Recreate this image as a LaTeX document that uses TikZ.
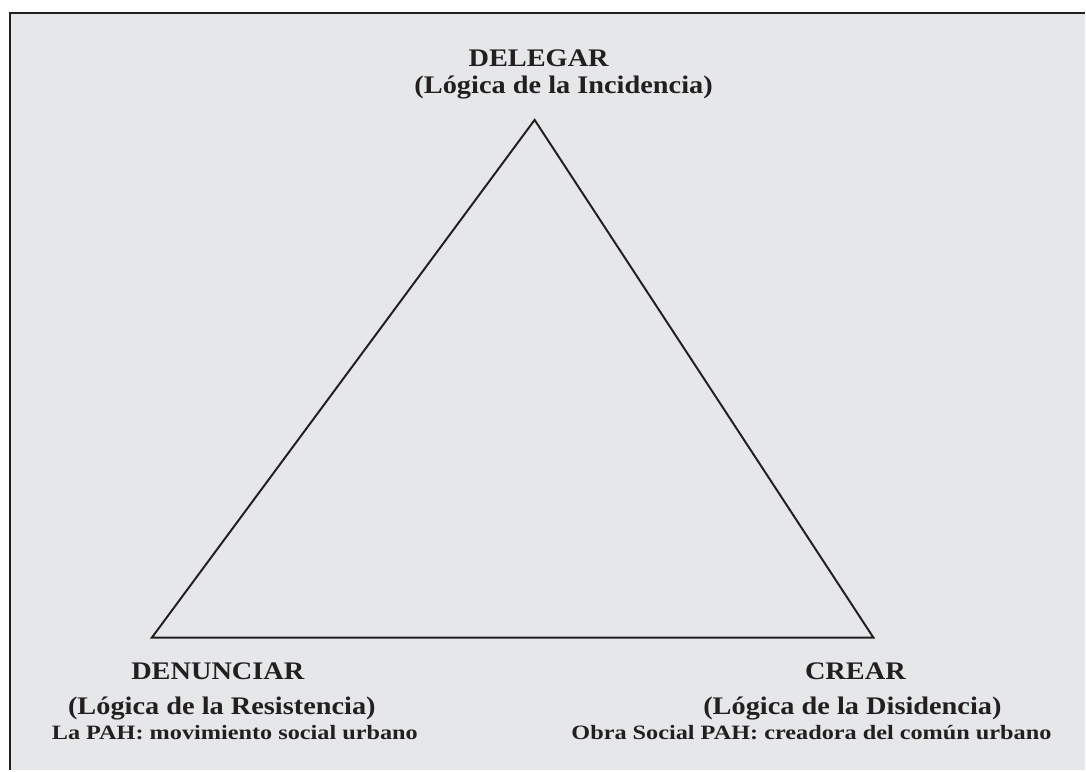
\documentclass[tikz,border=0pt]{standalone}
\usepackage{fontspec}
\setmainfont{Liberation Serif}
\newfontfamily\fuentetitulo{Liberation Serif}[FakeStretch=1.12]
\newfontfamily\fuentenota{Liberation Serif}[FakeStretch=1.19]
\definecolor{fondo}{HTML}{E6E7E9}
\definecolor{tinta}{HTML}{231F20}

\begin{document}
\begin{tikzpicture}[x=0.025cm,y=-0.025cm,
  titulo/.style={font=\fuentetitulo\bfseries\fontsize{18}{20}\selectfont,text=tinta,anchor=base,inner sep=0pt},
  nota/.style={font=\fuentenota\bfseries\fontsize{14.5}{16}\selectfont,text=tinta,anchor=base,inner sep=0pt},
  lado/.style={draw=tinta,line width=1.4pt,line join=miter}]
% fondo y marco
\fill[white] (0,0) rectangle (1086,771);
\fill[fondo] (10,13) rectangle (1086,771);
\draw[tinta,line width=1.1pt] (10,771) -- (10,13) -- (1086,13);
% vertices
\coordinate (arriba) at (535,120);
\coordinate (izq) at (152,638);
\coordinate (der) at (874,638);
\draw[lado] (arriba) -- (der) -- (izq) -- cycle;
% textos
\node[titulo] (delegar) at (539,67) {DELEGAR};
\node[titulo] (delegarlog) at (564,94) {(Lógica de la Incidencia)};
\node[titulo] (denunciar) at (218,680) {DENUNCIAR};
\node[titulo] (denunciarlog) at (222,715) {(Lógica de la Resistencia)};
\node[nota] (denunciarpah) at (235,740) {La PAH: movimiento social urbano};
\node[titulo] (crear) at (856,680) {CREAR};
\node[titulo] (crearlog) at (853,715) {(Lógica de la Disidencia)};
\node[nota] (crearpah) at (812,740) {Obra Social PAH: creadora del común urbano};
\end{tikzpicture}
\end{document}
